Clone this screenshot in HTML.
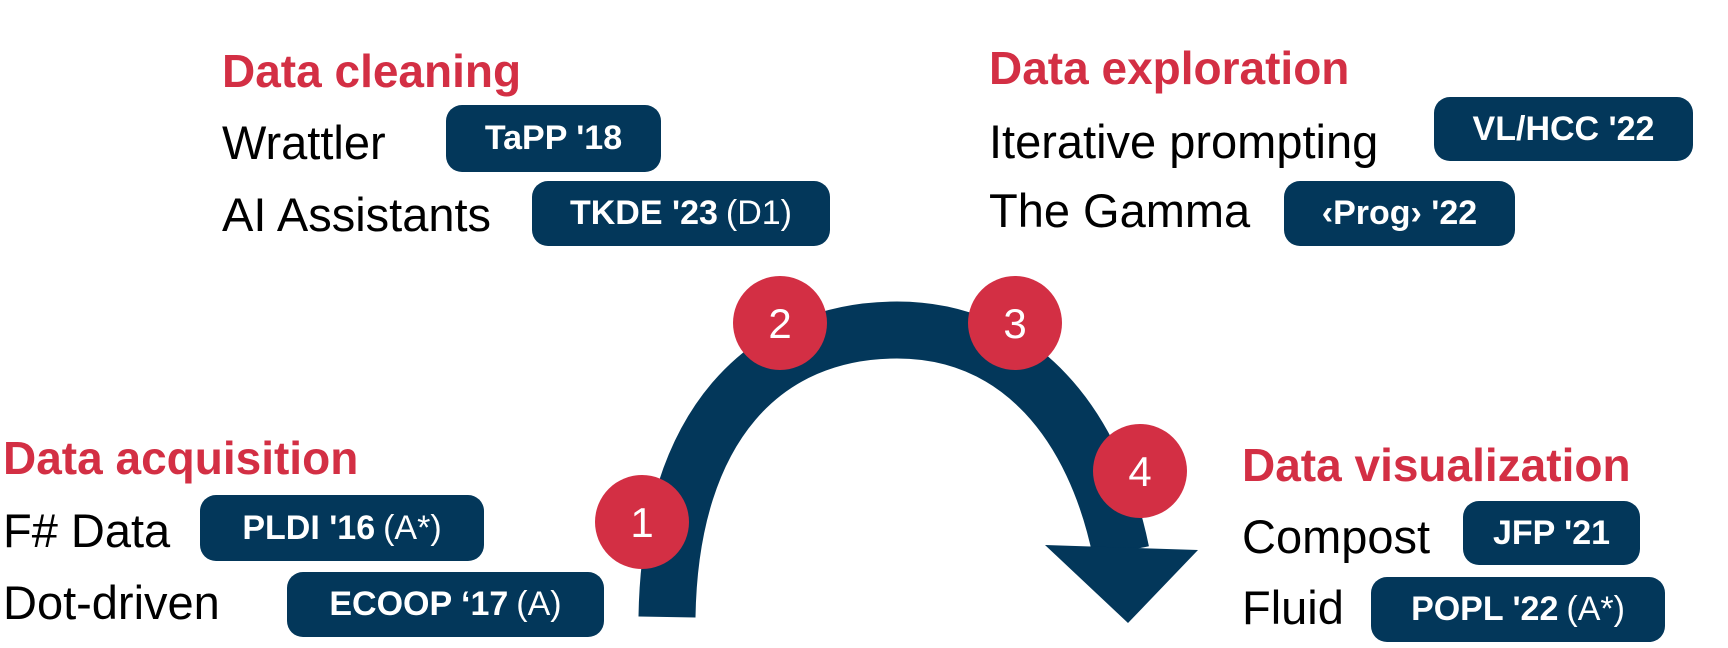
<!DOCTYPE html>
<html><head><meta charset="utf-8"><style>
html,body{margin:0;padding:0;background:#fff;}
#c{position:relative;width:1728px;height:648px;overflow:hidden;font-family:"Liberation Sans",sans-serif;}
.t{position:absolute;white-space:nowrap;line-height:1;color:#000;font-size:47px;}
.h{position:absolute;white-space:nowrap;line-height:1;color:#d32f44;font-size:46px;font-weight:bold;}
.p{position:absolute;background:#03375a;border-radius:16px;color:#fff;display:flex;align-items:center;justify-content:center;font-size:34px;font-weight:bold;white-space:nowrap;}
.p span{font-weight:normal;margin-left:8px;}
</style></head><body><div id="c">
<svg width="1728" height="648" style="position:absolute;left:0;top:0">
<path d="M667,617 C670,425 765,330 897,330 C1020,330 1095,425 1121,552" fill="none" stroke="#03375a" stroke-width="57"/>
<polygon points="1045,545 1198,550 1128,623" fill="#03375a"/>
<g fill="#d32f44"><circle cx="642" cy="522" r="47"/><circle cx="780" cy="323" r="47"/><circle cx="1015" cy="323" r="47"/><circle cx="1140" cy="471" r="47"/></g>
<g fill="#fff" font-family="Liberation Sans,sans-serif" font-size="42" text-anchor="middle"><text x="642" y="537">1</text><text x="780" y="338">2</text><text x="1015" y="338">3</text><text x="1140" y="486">4</text></g>
</svg>
<div class="h" style="left:222px;top:48px">Data cleaning</div>
<div class="t" style="left:222px;top:119px">Wrattler</div>
<div class="p" style="left:446px;top:105px;width:215px;height:67px">TaPP '18</div>
<div class="t" style="left:222px;top:191px">AI Assistants</div>
<div class="p" style="left:532px;top:181px;width:298px;height:65px">TKDE '23<span>(D1)</span></div>

<div class="h" style="left:989px;top:45px">Data exploration</div>
<div class="t" style="left:989px;top:118px">Iterative prompting</div>
<div class="p" style="left:1434px;top:97px;width:259px;height:64px">VL/HCC '22</div>
<div class="t" style="left:989px;top:187px">The Gamma</div>
<div class="p" style="left:1284px;top:181px;width:231px;height:65px">‹Prog› '22</div>

<div class="h" style="left:3px;top:435px">Data acquisition</div>
<div class="t" style="left:3px;top:507px">F# Data</div>
<div class="p" style="left:200px;top:495px;width:284px;height:66px">PLDI '16<span>(A*)</span></div>
<div class="t" style="left:3px;top:579px">Dot-driven</div>
<div class="p" style="left:287px;top:572px;width:317px;height:65px">ECOOP ‘17<span>(A)</span></div>

<div class="h" style="left:1242px;top:442px">Data visualization</div>
<div class="t" style="left:1242px;top:513px">Compost</div>
<div class="p" style="left:1463px;top:501px;width:177px;height:64px">JFP '21</div>
<div class="t" style="left:1242px;top:584px">Fluid</div>
<div class="p" style="left:1371px;top:577px;width:294px;height:65px">POPL '22<span>(A*)</span></div>
</div></body></html>
